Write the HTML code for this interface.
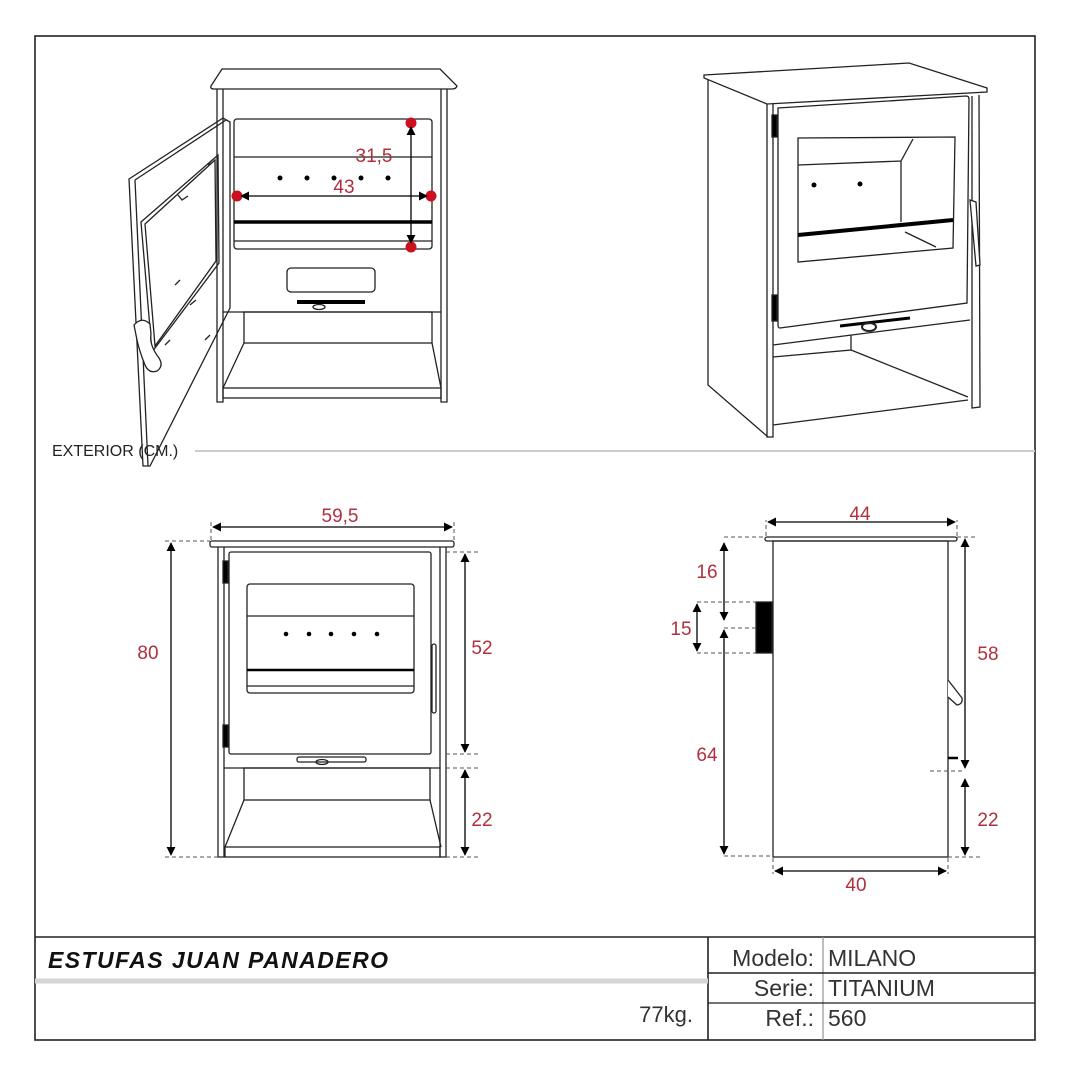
<!DOCTYPE html>
<html><head><meta charset="utf-8"><style>
html,body{margin:0;padding:0;background:#fff;}
svg{display:block;}
text{font-family:"Liberation Sans",sans-serif;}
.r{fill:#b0303e;font-size:19px;text-anchor:middle;}
</style></head><body>
<svg width="1071" height="1080" viewBox="0 0 1071 1080" xmlns="http://www.w3.org/2000/svg">
<defs>
<marker id="a" viewBox="0 0 10 10" refX="9" refY="5" markerWidth="7" markerHeight="7" orient="auto-start-reverse"><path d="M0,0L10,5L0,10z" fill="#000"/></marker>
</defs>
<g fill="none" stroke="#222" stroke-width="1.3">
<rect x="35" y="36" width="1000" height="1004" stroke-width="1.6"/>
<line x1="35" y1="937" x2="1035" y2="937" stroke-width="1.6"/>
<line x1="708" y1="937" x2="708" y2="1040" stroke-width="1.6"/>
<line x1="823" y1="937" x2="823" y2="1040" stroke="#999"/>
<line x1="708" y1="973" x2="1035" y2="973" stroke-width="1.6"/>
<line x1="708" y1="1003" x2="1035" y2="1003" stroke-width="1.2"/>
<line x1="35" y1="981" x2="708" y2="981" stroke="#d5d5d5" stroke-width="5"/>
<line x1="195" y1="451" x2="1035" y2="451" stroke="#ccc" stroke-width="2"/>

<path d="M211,86 L222,69 L440,69 L457,86 Q456,89 452,89 L214,89 Q210,89 211,86Z"/>
<path d="M217,89 L217,402 L223,402 L223,89"/>
<path d="M441,89 L441,402 L447,402 L447,89"/>
<rect x="234" y="119" width="198" height="130" rx="3"/>
<line x1="234" y1="157" x2="432" y2="157"/>
<line x1="234" y1="222" x2="432" y2="222" stroke-width="3.5" stroke="#000"/>
<line x1="234" y1="241" x2="432" y2="241"/>
<rect x="287" y="268" width="88" height="24" rx="4"/>
<line x1="297" y1="302" x2="365" y2="302" stroke-width="4" stroke="#000"/>
<ellipse cx="319" cy="307" rx="6" ry="2.5"/>
<line x1="223" y1="312" x2="441" y2="312"/>
<rect x="244" y="312" width="188" height="31"/>
<path d="M223,388 L244,343 M432,343 L441,388"/>
<rect x="223" y="388" width="218" height="10"/>
<path d="M129,179 L223,118 L230,122 L230,308 L150,466 L143,466 Z"/>
<path d="M135,180 L226,120 M135,180 L148,466"/>
<path d="M141,222 L218,155 L219,263 L152,352 Z"/>
<path d="M145,224 L215,160 L216,261 L155,346 Z"/>
<path d="M178,195 L182,200 L188,196 M208,165 L212,160"/>
<path d="M175,285 L180,280 M190,305 L196,300 M205,340 L210,335 M165,345 L170,340"/>
<path d="M134,325 Q142,316 150,324 L151,334 Q149,345 159,358 Q164,366 157,371 Q149,374 145,365 Q139,350 137,340 Z" fill="#fff"/>
<g fill="#000" stroke="none">
<circle cx="280" cy="178" r="2.5"/><circle cx="307" cy="178" r="2.5"/><circle cx="334" cy="178" r="2.5"/><circle cx="361" cy="178" r="2.5"/><circle cx="388" cy="178" r="2.5"/>
<circle cx="411" cy="123" r="5.5" fill="#cc1020"/><circle cx="411" cy="247" r="5.5" fill="#cc1020"/><circle cx="237" cy="196" r="5.5" fill="#cc1020"/><circle cx="431" cy="196" r="5.5" fill="#cc1020"/>
</g>
<line x1="411" y1="127" x2="411" y2="243" stroke="#000" marker-start="url(#a)" marker-end="url(#a)"/>
<line x1="241" y1="196" x2="427" y2="196" stroke="#000" marker-start="url(#a)" marker-end="url(#a)"/>

<path d="M704,75 L909,63 L987,88 L987,92 L767,104 L704,78 Z"/>
<path d="M767,104 L767,437 L773,437 L773,104"/>
<path d="M708,80 L708,385 L768,437"/>
<path d="M972,96 L972,408 L980,407 L979,95"/>
<path d="M778,108 L966,96 Q969,96 969,99 L967,303 L780,328 Q778,328 778,325 Z"/>
<path d="M798,138 L955,137 L953,248 L798,262 Z"/>
<path d="M798,165 L901,161 L913,139 M901,161 L901,222 M905,232 L936,247"/>
<line x1="798" y1="235" x2="953" y2="220" stroke-width="4" stroke="#000"/>
<path d="M773,345 L970,320 M773,357 L851,350 L851,335 M851,350 L968,397 M773,425 L968,400"/>
<path d="M970,200 L976,202 L980,265 L976,266 Z" fill="#fff"/>
<rect x="772" y="115" width="5" height="22" fill="#000"/>
<rect x="772" y="295" width="5" height="26" fill="#000"/>
<line x1="840" y1="326" x2="910" y2="318" stroke-width="3" stroke="#000"/>
<ellipse cx="869" cy="327" rx="7" ry="4" stroke-width="2"/>
<g fill="#000" stroke="none"><circle cx="814" cy="185" r="2.5"/><circle cx="860" cy="184" r="2.5"/></g>

<rect x="210" y="541" width="244" height="6" rx="2"/>
<path d="M218,547 L218,857 L224,857 L224,547 M440,547 L440,857 L446,857 L446,547"/>
<rect x="229" y="552" width="202" height="202" rx="2"/>
<rect x="247" y="584" width="167" height="109" rx="3"/>
<line x1="247" y1="616" x2="414" y2="616"/>
<line x1="247" y1="670" x2="414" y2="670" stroke-width="2.5" stroke="#000"/>
<line x1="247" y1="686" x2="414" y2="686"/>
<rect x="432" y="644" width="4" height="69" rx="2"/>
<rect x="223" y="561" width="5" height="22" fill="#000"/>
<rect x="223" y="725" width="5" height="22" fill="#000"/>
<rect x="297" y="757" width="69" height="5" rx="2"/>
<ellipse cx="322" cy="762" rx="6" ry="2.5"/>
<line x1="224" y1="768" x2="440" y2="768"/>
<rect x="244" y="768" width="186" height="32"/>
<path d="M225,847 L244,800 M430,800 L441,847"/>
<rect x="225" y="847" width="215" height="10"/>
<g fill="#000" stroke="none"><circle cx="286" cy="634" r="2.3"/><circle cx="309" cy="634" r="2.3"/><circle cx="331" cy="634" r="2.3"/><circle cx="354" cy="634" r="2.3"/><circle cx="377" cy="634" r="2.3"/></g>
<g stroke="#555" stroke-width="1" stroke-dasharray="4,3">
<path d="M211,540 L211,522 M454,540 L454,522 M165,541 L210,541 M165,857 L218,857 M446,552 L478,552 M446,754 L478,754 M446,768 L478,768 M446,857 L478,857"/>
</g>
<g stroke="#000">
<line x1="213" y1="527" x2="452" y2="527" marker-start="url(#a)" marker-end="url(#a)"/>
<line x1="171" y1="543" x2="171" y2="855" marker-start="url(#a)" marker-end="url(#a)"/>
<line x1="465" y1="554" x2="465" y2="752" marker-start="url(#a)" marker-end="url(#a)"/>
<line x1="465" y1="770" x2="465" y2="855" marker-start="url(#a)" marker-end="url(#a)"/>
</g>

<rect x="765" y="537" width="192" height="4" rx="2"/>
<rect x="773" y="541" width="175" height="316"/>
<rect x="756" y="602" width="16" height="51" fill="#000"/>
<path d="M948,680 L962,698 Q963,704 957,705 L948,697" fill="#fff"/>
<line x1="948" y1="758" x2="958" y2="758" stroke-width="2.5" stroke="#000"/>
<g stroke="#555" stroke-width="1" stroke-dasharray="4,3">
<path d="M766,536 L766,520 M957,536 L957,520 M724,537 L765,537 M957,537 L975,537 M697,602 L756,602 M697,653 L756,653 M724,628 L756,628 M930,771 L965,771 M724,856 L773,856 M948,857 L980,857 M773,858 L773,874 M948,858 L948,874"/>
</g>
<g stroke="#000">
<line x1="768" y1="522" x2="955" y2="522" marker-start="url(#a)" marker-end="url(#a)"/>
<line x1="724" y1="543" x2="724" y2="620" marker-start="url(#a)" marker-end="url(#a)"/>
<line x1="724" y1="630" x2="724" y2="854" marker-start="url(#a)" marker-end="url(#a)"/>
<line x1="697" y1="604" x2="697" y2="651" marker-start="url(#a)" marker-end="url(#a)"/>
<line x1="965" y1="539" x2="965" y2="768" marker-start="url(#a)" marker-end="url(#a)"/>
<line x1="965" y1="779" x2="965" y2="855" marker-start="url(#a)" marker-end="url(#a)"/>
<line x1="775" y1="871" x2="946" y2="871" marker-start="url(#a)" marker-end="url(#a)"/>
</g>
</g>

<text x="374" y="162" class="r" font-size="16">31,5</text>
<text x="344" y="193" class="r" font-size="16">43</text>
<text x="52" y="456" font-size="16" fill="#222">EXTERIOR (CM.)</text>
<text x="340" y="522" class="r">59,5</text>
<text x="148" y="659" class="r">80</text>
<text x="482" y="654" class="r">52</text>
<text x="482" y="826" class="r">22</text>
<text x="860" y="520" class="r">44</text>
<text x="707" y="578" class="r">16</text>
<text x="681" y="635" class="r">15</text>
<text x="707" y="761" class="r">64</text>
<text x="988" y="660" class="r">58</text>
<text x="988" y="826" class="r">22</text>
<text x="856" y="891" class="r">40</text>
<text x="48" y="968" font-size="23" font-weight="bold" font-style="italic" fill="#111" textLength="340">ESTUFAS JUAN PANADERO</text>
<text x="693" y="1022" font-size="22" fill="#333" text-anchor="end">77kg.</text>
<text x="814" y="966" font-size="23" fill="#333" text-anchor="end">Modelo:</text>
<text x="814" y="996" font-size="23" fill="#333" text-anchor="end">Serie:</text>
<text x="814" y="1026" font-size="23" fill="#333" text-anchor="end">Ref.:</text>
<text x="828" y="966" font-size="23" fill="#333">MILANO</text>
<text x="828" y="996" font-size="23" fill="#333">TITANIUM</text>
<text x="828" y="1026" font-size="23" fill="#333">560</text>
</svg>
</body></html>
